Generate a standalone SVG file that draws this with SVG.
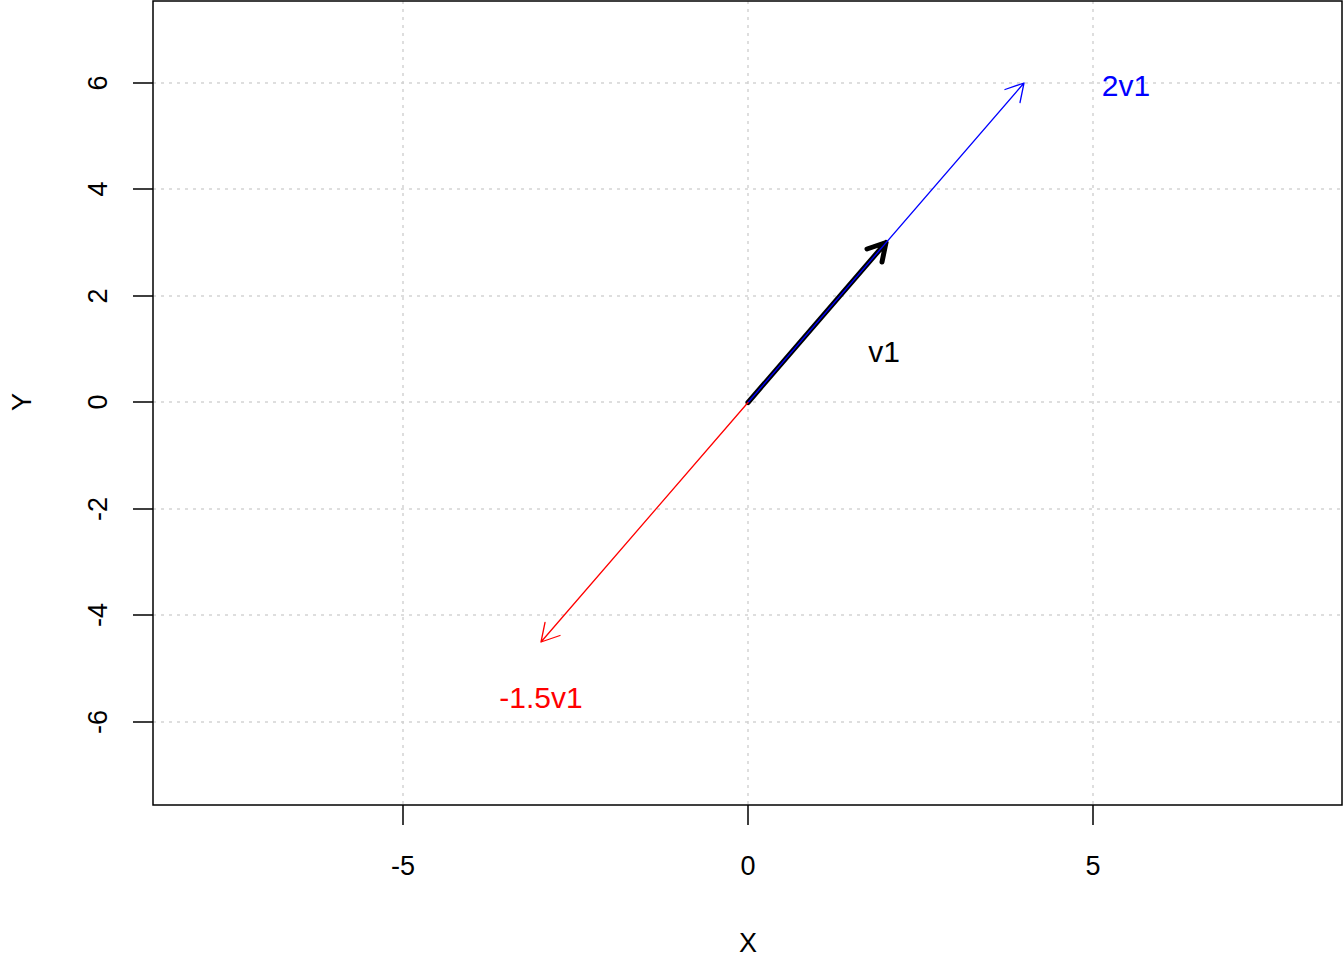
<svg xmlns="http://www.w3.org/2000/svg" width="1344" height="960" viewBox="0 0 1344 960">
<style>
text{font-family:"Liberation Sans",Arial,sans-serif;font-size:27px;text-anchor:middle}
.lab{font-size:30px}
.grid{stroke:#D3D3D3;stroke-width:1.5;stroke-dasharray:3 5;fill:none}
.ax{stroke:#000;stroke-width:1.5;fill:none}
.vec{fill:none;stroke-linecap:round;stroke-linejoin:round}
</style>
<rect width="1344" height="960" fill="#fff"/>
<g id="grid">
<path class="grid" d="M403 1V805M748 1V805M1093 1V805M153 83H1342M153 189H1342M153 296H1342M153 402H1342M153 509H1342M153 615H1342M153 722H1342"/>
</g>
<g id="axes">
<rect class="ax" x="153" y="1" width="1189" height="804"/>
<path class="ax" d="M403 805v20M748 805v20M1093 805v20M153 83h-20M153 189h-20M153 296h-20M153 402h-20M153 509h-20M153 615h-20M153 722h-20"/>
<text x="403" y="875">-5</text>
<text x="748" y="875">0</text>
<text x="1093" y="875">5</text>
<text transform="translate(107 83) rotate(-90)">6</text>
<text transform="translate(107 189) rotate(-90)">4</text>
<text transform="translate(107 296) rotate(-90)">2</text>
<text transform="translate(107 402) rotate(-90)">0</text>
<text transform="translate(107 509) rotate(-90)">-2</text>
<text transform="translate(107 615) rotate(-90)">-4</text>
<text transform="translate(107 722) rotate(-90)">-6</text>
<text x="748" y="952">X</text>
<text transform="translate(31 402) rotate(-90)">Y</text>
</g>
<g id="connectors">
<g id="v1"><path class="vec" stroke="#000" stroke-width="5" d="M748 402.5L886 242.5M867 249L886 242.5L882 262"/></g>
<g id="v2"><path class="vec" stroke="#0000FF" stroke-width="1.3" d="M748 402.5L1024 83M1005 89.5L1024 83L1020 102.5"/></g>
<g id="v3"><path class="vec" stroke="#FF0000" stroke-width="1.3" d="M748 402.5L541 642M560 635.5L541 642L545 622.5"/></g>
</g>
<g id="labels">
<text class="lab" x="1126" y="96" fill="#0000FF">2v1</text>
<text class="lab" x="884" y="362" fill="#000">v1</text>
<text class="lab" x="541" y="708" fill="#FF0000">-1.5v1</text>
</g>
</svg>
